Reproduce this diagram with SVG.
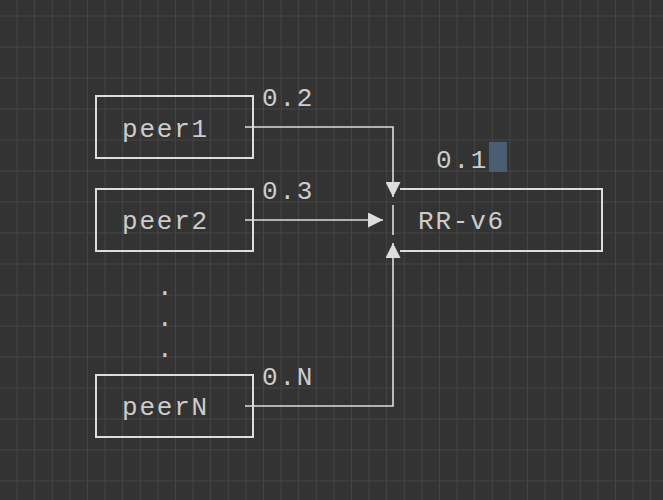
<svg xmlns="http://www.w3.org/2000/svg" width="663" height="500" viewBox="0 0 663 500">
<defs>
<pattern id="grid" x="0" y="15.5" width="17.6" height="31" patternUnits="userSpaceOnUse">
<path d="M17.6 0V31M0 0H17.6" stroke="#444" stroke-width="2" fill="none"/>
</pattern>
<marker id="ah" viewBox="0 0 10 10" refX="10" refY="5" markerWidth="15" markerHeight="15" markerUnits="userSpaceOnUse" orient="auto">
<path d="M0 0L10 5L0 10Z" fill="#ddd"/>
</marker>
<style>
.box{fill:none;stroke:#ddd;stroke-width:2}
.ln{fill:none;stroke:#ddd;stroke-width:1.6}
text{font-family:"Liberation Mono","DejaVu Sans Mono",monospace;font-size:26px;fill:#ccc;letter-spacing:1.8px}
</style>
</defs>
<rect width="663" height="500" fill="#333"/>
<rect width="663" height="500" fill="url(#grid)"/>
<g id="peer1"><rect class="box" x="96" y="96" width="157" height="62"/><text x="122" y="137">peer1</text></g>
<g id="peer2"><rect class="box" x="96" y="189" width="157" height="62"/><text x="122" y="229">peer2</text></g>
<g id="peerN"><rect class="box" x="96" y="375" width="157" height="62"/><text x="122" y="415">peerN</text></g>
<g id="dots"><text x="157" y="295">.</text><text x="157" y="326">.</text><text x="157" y="357">.</text></g>
<g id="rr">
<path class="box" d="M400 189H602V251H400"/>
<path class="ln" d="M393 205V235"/>
<text x="418" y="229">RR-v6</text>
</g>
<g id="labels">
<text x="262" y="106">0.2</text>
<text x="262" y="199">0.3</text>
<text x="262" y="385">0.N</text>
<rect x="489" y="142" width="18" height="30" fill="#4a5d73"/>
<text x="436" y="168">0.1</text>
</g>
<g id="connectors">
<path class="ln" d="M245 127H393V197" marker-end="url(#ah)"/>
<path class="ln" d="M245 220H383" marker-end="url(#ah)"/>
<path class="ln" d="M245 406H393V243" marker-end="url(#ah)"/>
</g>
</svg>
